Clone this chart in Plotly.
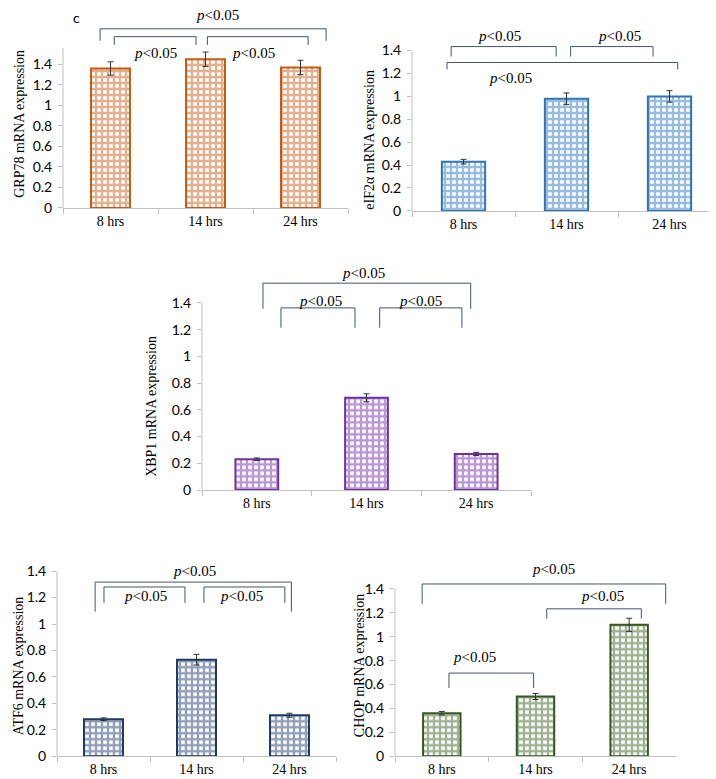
import plotly.graph_objects as go

# ---------------- data ----------------
categories = ["8 hrs", "14 hrs", "24 hrs"]

grp78 = [1.36, 1.45, 1.37]
grp78_err = [0.065, 0.07, 0.07]
eif2a = [0.43, 0.98, 1.00]
eif2a_err = [0.02, 0.05, 0.05]
xbp1 = [0.23, 0.69, 0.27]
xbp1_err = [0.01, 0.03, 0.012]
atf6 = [0.28, 0.73, 0.31]
atf6_err = [0.01, 0.04, 0.015]
chop = [0.36, 0.50, 1.10]
chop_err = [0.015, 0.025, 0.055]

y_tickvals = [0, 0.2, 0.4, 0.6, 0.8, 1.0, 1.2, 1.4]
y_ticktext = ["0", "0.2", "0.4", "0.6", "0.8", "1", "1.2", "1.4"]
p_label = "<i>p</i>&lt;0.05"

W, H = 716, 779

# ---------------- layout / style per panel ----------------
panels = [
    dict(name="GRP78 mRNA expression", y=grp78, err=grp78_err,
         line="#C55A11", fg="#C8621F", zero=202, ppu=103.6, left=55, right=340, top=0,
         axis_top=1.56, width=0.41, title_x=12, title_y=117,
         brackets=[(-0.11, 2.27, 1.747, 1.63), (0.04, 0.90, 1.67, 1.59), (1.02, 2.08, 1.67, 1.59)],
         texts=[(1.13, 1.88), (0.47, 1.515), (1.5, 1.515)]),
    dict(name="eIF2α mRNA expression", y=eif2a, err=eif2a_err,
         line="#2E75B6", fg="#317BBE", zero=205, ppu=115.7, left=404, right=713, top=0,
         axis_top=1.4, width=0.42, title_x=362, title_y=133,
         brackets=[(-0.12, 0.90, 1.435, 1.348), (1.04, 1.84, 1.435, 1.348), (-0.16, 2.08, 1.296, 1.236)],
         texts=[(0.35, 1.53), (1.51, 1.53), (0.46, 1.158)]),
    dict(name="XBP1 mRNA expression", y=xbp1, err=xbp1_err,
         line="#7030A0", fg="#7434A6", zero=487, ppu=135, left=194, right=523, top=258,
         axis_top=1.4, width=0.39, title_x=144, title_y=403,
         brackets=[(0.056, 1.95, 1.548, 1.356), (0.22, 0.895, 1.363, 1.215), (1.12, 1.87, 1.363, 1.215)],
         texts=[(0.97, 1.622), (0.585, 1.415), (1.49, 1.415)]),
    dict(name="ATF6 mRNA expression", y=atf6, err=atf6_err,
         line="#1F3864", fg="#243F70", zero=756, ppu=133.6, left=49, right=328, top=560,
         axis_top=1.4, width=0.42, title_x=10, title_y=665,
         brackets=[(-0.09, 2.02, 1.317, 1.093), (0.005, 0.876, 1.28, 1.16), (1.08, 1.95, 1.28, 1.16)],
         texts=[(0.98, 1.40), (0.45, 1.213), (1.48, 1.213)]),
    dict(name="CHOP mRNA expression", y=chop, err=chop_err,
         line="#385723", fg="#3F6528", zero=756, ppu=120.7, left=387, right=668, top=560,
         axis_top=1.4, width=0.40, title_x=351, title_y=665,
         brackets=[(-0.21, 2.39, 1.442, 1.276), (1.12, 2.13, 1.234, 1.152), (0.076, 0.98, 0.696, 0.572)],
         texts=[(1.19, 1.566), (1.72, 1.342), (0.354, 0.828)]),
]

fig = go.Figure()
shapes = []
annotations = []
layout_axes = {}
BR = "#44546A"

for i, p in enumerate(panels):
    n = "" if i == 0 else str(i + 1)
    xa, ya = "x" + n, "y" + n
    fig.add_trace(go.Bar(
        x=categories, y=p["y"], xaxis=xa, yaxis=ya, width=p["width"],
        marker=dict(color="white", line=dict(color=p["line"], width=2),
                    pattern=dict(shape="+", fgcolor=p["fg"], bgcolor="white",
                                 size=6, solidity=0.62, fillmode="overlay")),
        error_y=dict(type="data", array=p["err"], color="#333333", thickness=1, width=3),
        showlegend=False,
    ))
    ytop = (p["zero"] - p["top"]) / p["ppu"]
    layout_axes["xaxis" + n] = dict(
        domain=[p["left"] / W, p["right"] / W], anchor=ya, type="category",
        range=[-0.5, 2.5], showline=True, linecolor="#BFBFBF", linewidth=1,
        ticks="outside", ticklen=5, tickcolor="#BFBFBF", tickson="boundaries",
        showgrid=False, zeroline=False,
        tickfont=dict(family="Liberation Serif", size=14, color="black"),
    )
    layout_axes["yaxis" + n] = dict(
        domain=[1 - p["zero"] / H, 1 - p["top"] / H], anchor=xa,
        range=[0, ytop], tickvals=y_tickvals, ticktext=y_ticktext,
        showline=False, ticks="outside", ticklen=4, tickcolor="#BFBFBF",
        showgrid=False, zeroline=False, ticklabelstandoff=3,
        tickfont=dict(family="Lato", size=14, color="black"),
    )
    # y-axis line (ends at top of the value scale, not top of domain)
    shapes.append(dict(type="line", xref=xa + " domain", yref=ya, x0=0, x1=0,
                       y0=0, y1=p["axis_top"], line=dict(color="#BFBFBF", width=1)))
    for (x0, x1, yt, yl) in p["brackets"]:
        for seg in [(x0, yl, x0, yt), (x0, yt, x1, yt), (x1, yt, x1, yl)]:
            shapes.append(dict(type="line", xref=xa, yref=ya,
                               x0=seg[0], y0=seg[1], x1=seg[2], y1=seg[3],
                               line=dict(color=BR, width=1)))
    for (tx, ty) in p["texts"]:
        annotations.append(dict(x=tx, y=ty, xref=xa, yref=ya, text=p_label, showarrow=False,
                                font=dict(family="Liberation Serif", size=15, color="black"),
                                xanchor="center", yanchor="middle"))
    annotations.append(dict(x=p["title_x"] / W, y=1 - p["title_y"] / H, xref="paper", yref="paper",
                            text=p["name"], textangle=-90, showarrow=False,
                            font=dict(family="Liberation Serif", size=14, color="black"),
                            xanchor="center", yanchor="middle"))

annotations.append(dict(x=68 / W, y=1 - 10 / H, xref="paper", yref="paper", text="c",
                        showarrow=False, font=dict(family="Lato", size=14, color="black"),
                        xanchor="center", yanchor="middle"))

fig.update_layout(
    width=W, height=H, margin=dict(l=0, r=0, t=0, b=0),
    paper_bgcolor="white", plot_bgcolor="white",
    shapes=shapes, annotations=annotations, **layout_axes,
)

fig.write_html("out.html")
